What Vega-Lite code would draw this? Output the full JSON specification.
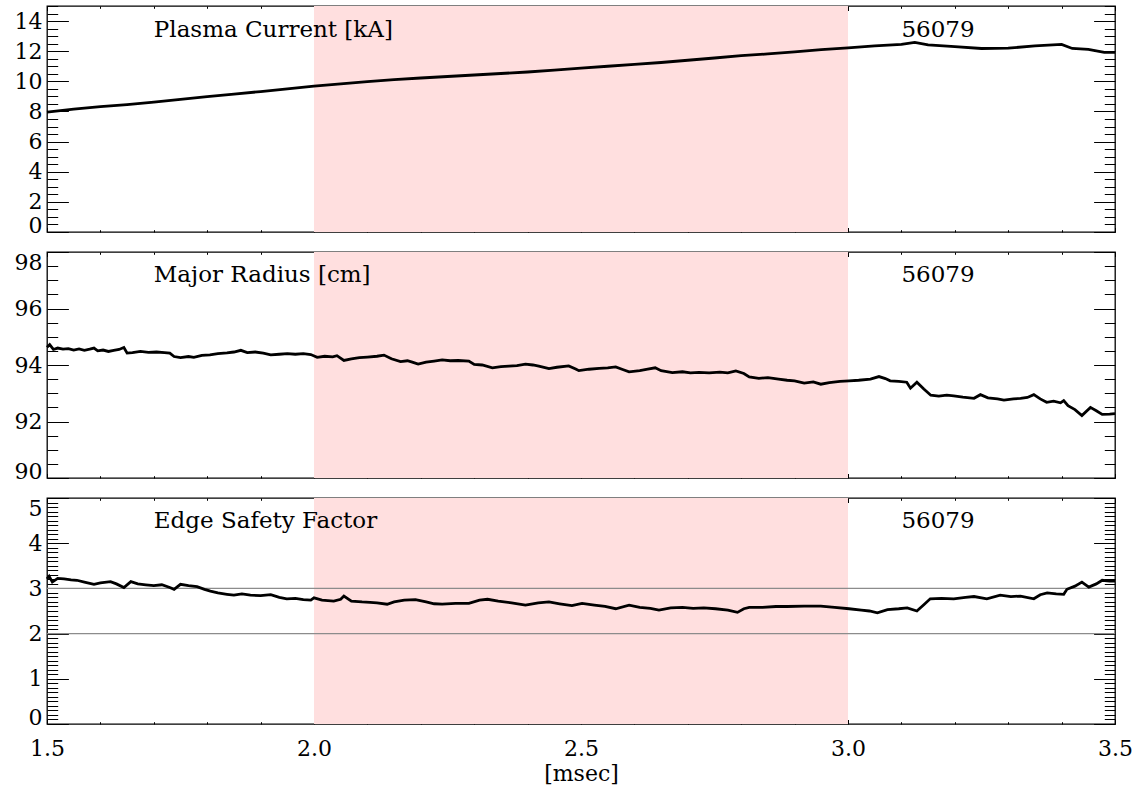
{
  "$schema": "https://vega.github.io/schema/vega-lite/v6.json",
  "background": "white",
  "padding": {"left": 3, "top": 4, "right": 0, "bottom": 0},
  "spacing": 13,
  "config": {
    "view": {"stroke": "black", "strokeWidth": 1.3},
    "axis": {"domain": false, "grid": false, "tickColor": "black", "tickWidth": 1, "zindex": 1, "labelOverlap": false,
      "labelFont": "DejaVu Serif", "labelFontSize": 22, "labelColor": "black",
      "titleFont": "DejaVu Serif", "titleFontSize": 22, "titleFontWeight": "normal", "titleColor": "black"}
  },
  "datasets": {
    "ip": [
      {"t":1.50,"v":7.95},{"t":1.55,"v":8.15},{"t":1.60,"v":8.32},{"t":1.65,"v":8.46},{"t":1.70,"v":8.62},{"t":1.75,"v":8.80},{"t":1.80,"v":8.99},{"t":1.85,"v":9.15},{"t":1.90,"v":9.32},{"t":1.95,"v":9.50},{"t":2.00,"v":9.68},{"t":2.05,"v":9.83},{"t":2.10,"v":9.98},{"t":2.15,"v":10.12},{"t":2.20,"v":10.22},{"t":2.25,"v":10.32},{"t":2.30,"v":10.42},{"t":2.35,"v":10.52},{"t":2.40,"v":10.62},{"t":2.45,"v":10.75},{"t":2.50,"v":10.88},{"t":2.55,"v":11.00},{"t":2.60,"v":11.12},{"t":2.65,"v":11.25},{"t":2.70,"v":11.40},{"t":2.75,"v":11.55},{"t":2.80,"v":11.70},{"t":2.85,"v":11.82},{"t":2.90,"v":11.95},{"t":2.95,"v":12.10},{"t":3.00,"v":12.22},{"t":3.05,"v":12.35},{"t":3.10,"v":12.45},{"t":3.125,"v":12.58},{"t":3.15,"v":12.42},{"t":3.20,"v":12.30},{"t":3.25,"v":12.18},{"t":3.30,"v":12.20},{"t":3.35,"v":12.36},{"t":3.40,"v":12.45},{"t":3.42,"v":12.18},{"t":3.45,"v":12.12},{"t":3.48,"v":11.92},{"t":3.50,"v":11.92}
    ],
    "rmaj": [
      {"t":1.500,"v":94.63},{"t":1.505,"v":94.72},{"t":1.512,"v":94.55},{"t":1.520,"v":94.60},{"t":1.530,"v":94.56},{"t":1.540,"v":94.58},{"t":1.550,"v":94.53},{"t":1.560,"v":94.57},{"t":1.570,"v":94.52},{"t":1.580,"v":94.56},{"t":1.588,"v":94.60},{"t":1.595,"v":94.50},{"t":1.605,"v":94.53},{"t":1.615,"v":94.48},{"t":1.625,"v":94.52},{"t":1.635,"v":94.55},{"t":1.644,"v":94.62},{"t":1.650,"v":94.42},{"t":1.660,"v":94.44},{"t":1.675,"v":94.48},{"t":1.690,"v":94.45},{"t":1.705,"v":94.46},{"t":1.720,"v":94.44},{"t":1.730,"v":94.42},{"t":1.738,"v":94.30},{"t":1.750,"v":94.26},{"t":1.765,"v":94.30},{"t":1.775,"v":94.27},{"t":1.790,"v":94.34},{"t":1.805,"v":94.36},{"t":1.820,"v":94.40},{"t":1.837,"v":94.43},{"t":1.850,"v":94.46},{"t":1.863,"v":94.52},{"t":1.875,"v":94.44},{"t":1.890,"v":94.46},{"t":1.905,"v":94.42},{"t":1.919,"v":94.36},{"t":1.935,"v":94.38},{"t":1.950,"v":94.40},{"t":1.965,"v":94.38},{"t":1.980,"v":94.40},{"t":1.994,"v":94.37},{"t":2.006,"v":94.27},{"t":2.020,"v":94.31},{"t":2.035,"v":94.29},{"t":2.043,"v":94.33},{"t":2.056,"v":94.16},{"t":2.070,"v":94.22},{"t":2.085,"v":94.26},{"t":2.100,"v":94.28},{"t":2.118,"v":94.31},{"t":2.131,"v":94.35},{"t":2.145,"v":94.22},{"t":2.162,"v":94.12},{"t":2.175,"v":94.15},{"t":2.184,"v":94.10},{"t":2.195,"v":94.03},{"t":2.210,"v":94.10},{"t":2.225,"v":94.14},{"t":2.240,"v":94.18},{"t":2.255,"v":94.15},{"t":2.270,"v":94.16},{"t":2.290,"v":94.14},{"t":2.300,"v":94.02},{"t":2.315,"v":94.00},{"t":2.334,"v":93.90},{"t":2.350,"v":93.94},{"t":2.365,"v":93.96},{"t":2.380,"v":93.98},{"t":2.396,"v":94.03},{"t":2.410,"v":94.00},{"t":2.421,"v":93.96},{"t":2.440,"v":93.87},{"t":2.455,"v":93.92},{"t":2.477,"v":93.97},{"t":2.490,"v":93.86},{"t":2.496,"v":93.80},{"t":2.515,"v":93.85},{"t":2.534,"v":93.88},{"t":2.550,"v":93.90},{"t":2.565,"v":93.93},{"t":2.578,"v":93.84},{"t":2.590,"v":93.76},{"t":2.610,"v":93.80},{"t":2.625,"v":93.85},{"t":2.639,"v":93.90},{"t":2.650,"v":93.80},{"t":2.671,"v":93.73},{"t":2.690,"v":93.76},{"t":2.705,"v":93.72},{"t":2.721,"v":93.74},{"t":2.740,"v":93.72},{"t":2.760,"v":93.75},{"t":2.775,"v":93.72},{"t":2.790,"v":93.79},{"t":2.805,"v":93.70},{"t":2.815,"v":93.58},{"t":2.833,"v":93.53},{"t":2.850,"v":93.55},{"t":2.870,"v":93.50},{"t":2.886,"v":93.46},{"t":2.900,"v":93.44},{"t":2.918,"v":93.36},{"t":2.935,"v":93.40},{"t":2.949,"v":93.32},{"t":2.965,"v":93.38},{"t":2.985,"v":93.42},{"t":3.002,"v":93.44},{"t":3.020,"v":93.46},{"t":3.042,"v":93.50},{"t":3.058,"v":93.59},{"t":3.070,"v":93.52},{"t":3.079,"v":93.44},{"t":3.095,"v":93.42},{"t":3.110,"v":93.39},{"t":3.117,"v":93.18},{"t":3.129,"v":93.39},{"t":3.142,"v":93.15},{"t":3.155,"v":92.93},{"t":3.170,"v":92.90},{"t":3.185,"v":92.93},{"t":3.198,"v":92.91},{"t":3.215,"v":92.86},{"t":3.236,"v":92.82},{"t":3.248,"v":92.95},{"t":3.262,"v":92.84},{"t":3.280,"v":92.80},{"t":3.292,"v":92.76},{"t":3.310,"v":92.80},{"t":3.323,"v":92.82},{"t":3.336,"v":92.85},{"t":3.348,"v":92.95},{"t":3.360,"v":92.80},{"t":3.372,"v":92.68},{"t":3.385,"v":92.72},{"t":3.398,"v":92.66},{"t":3.404,"v":92.74},{"t":3.412,"v":92.56},{"t":3.425,"v":92.42},{"t":3.438,"v":92.21},{"t":3.454,"v":92.50},{"t":3.465,"v":92.38},{"t":3.476,"v":92.25},{"t":3.490,"v":92.26},{"t":3.500,"v":92.28}
    ],
    "q": [
      {"t":1.500,"v":3.21},{"t":1.504,"v":3.27},{"t":1.510,"v":3.14},{"t":1.520,"v":3.22},{"t":1.532,"v":3.21},{"t":1.545,"v":3.19},{"t":1.556,"v":3.18},{"t":1.570,"v":3.14},{"t":1.588,"v":3.09},{"t":1.600,"v":3.12},{"t":1.619,"v":3.15},{"t":1.630,"v":3.10},{"t":1.644,"v":3.02},{"t":1.657,"v":3.15},{"t":1.670,"v":3.10},{"t":1.685,"v":3.08},{"t":1.700,"v":3.06},{"t":1.715,"v":3.08},{"t":1.730,"v":3.02},{"t":1.738,"v":2.98},{"t":1.750,"v":3.09},{"t":1.765,"v":3.06},{"t":1.781,"v":3.04},{"t":1.795,"v":2.98},{"t":1.806,"v":2.94},{"t":1.820,"v":2.90},{"t":1.837,"v":2.87},{"t":1.850,"v":2.85},{"t":1.865,"v":2.88},{"t":1.881,"v":2.85},{"t":1.900,"v":2.84},{"t":1.919,"v":2.86},{"t":1.935,"v":2.80},{"t":1.949,"v":2.77},{"t":1.965,"v":2.78},{"t":1.980,"v":2.75},{"t":1.994,"v":2.74},{"t":2.000,"v":2.79},{"t":2.015,"v":2.74},{"t":2.037,"v":2.72},{"t":2.050,"v":2.76},{"t":2.056,"v":2.83},{"t":2.070,"v":2.72},{"t":2.090,"v":2.70},{"t":2.105,"v":2.69},{"t":2.118,"v":2.68},{"t":2.137,"v":2.65},{"t":2.150,"v":2.70},{"t":2.169,"v":2.74},{"t":2.190,"v":2.75},{"t":2.210,"v":2.70},{"t":2.225,"v":2.66},{"t":2.240,"v":2.65},{"t":2.265,"v":2.67},{"t":2.290,"v":2.67},{"t":2.310,"v":2.74},{"t":2.325,"v":2.76},{"t":2.345,"v":2.72},{"t":2.370,"v":2.68},{"t":2.396,"v":2.63},{"t":2.420,"v":2.68},{"t":2.440,"v":2.70},{"t":2.460,"v":2.66},{"t":2.483,"v":2.62},{"t":2.502,"v":2.67},{"t":2.525,"v":2.63},{"t":2.545,"v":2.60},{"t":2.565,"v":2.55},{"t":2.590,"v":2.63},{"t":2.610,"v":2.58},{"t":2.630,"v":2.56},{"t":2.646,"v":2.52},{"t":2.668,"v":2.57},{"t":2.690,"v":2.58},{"t":2.710,"v":2.56},{"t":2.730,"v":2.57},{"t":2.752,"v":2.55},{"t":2.775,"v":2.52},{"t":2.793,"v":2.47},{"t":2.805,"v":2.55},{"t":2.815,"v":2.58},{"t":2.840,"v":2.58},{"t":2.865,"v":2.60},{"t":2.886,"v":2.60},{"t":2.918,"v":2.61},{"t":2.949,"v":2.61},{"t":2.975,"v":2.58},{"t":3.002,"v":2.55},{"t":3.025,"v":2.52},{"t":3.040,"v":2.50},{"t":3.055,"v":2.46},{"t":3.074,"v":2.53},{"t":3.095,"v":2.55},{"t":3.111,"v":2.57},{"t":3.129,"v":2.50},{"t":3.142,"v":2.64},{"t":3.154,"v":2.77},{"t":3.175,"v":2.78},{"t":3.198,"v":2.77},{"t":3.220,"v":2.80},{"t":3.236,"v":2.82},{"t":3.260,"v":2.77},{"t":3.285,"v":2.85},{"t":3.305,"v":2.82},{"t":3.323,"v":2.83},{"t":3.348,"v":2.77},{"t":3.360,"v":2.86},{"t":3.373,"v":2.90},{"t":3.390,"v":2.88},{"t":3.404,"v":2.87},{"t":3.410,"v":2.98},{"t":3.425,"v":3.05},{"t":3.438,"v":3.14},{"t":3.451,"v":3.03},{"t":3.465,"v":3.10},{"t":3.476,"v":3.18},{"t":3.490,"v":3.16},{"t":3.500,"v":3.16}
    ]
  },
  "vconcat": [
    {
      "width": 1068, "height": 226,
      "resolve": {"axis": {"x": "independent", "y": "independent"}},
      "layer": [
        {"data": {"values": [{"a": 2.0, "b": 3.0}]}, "mark": {"type": "rect", "color": "#ffdfdf"},
         "encoding": {
           "x": {"field": "a", "type": "quantitative", "scale": {"domain": [1.5, 3.5], "nice": false, "zero": false},
                 "axis": {"orient": "bottom", "title": null, "labels": false, "values": [1.5,1.6,1.7,1.8,1.9,2.0,2.1,2.2,2.3,2.4,2.5,2.6,2.7,2.8,2.9,3.0,3.1,3.2,3.3,3.4,3.5],
                          "tickSize": {"condition": {"test": "abs(datum.value*2 - round(datum.value*2)) < 0.01", "value": -4.5}, "value": -2.3}}},
           "x2": {"field": "b"}}},
        {"data": {"name": "ip"}, "mark": {"type": "line", "color": "black", "strokeWidth": 2.8},
         "encoding": {
           "x": {"field": "t", "type": "quantitative", "scale": {"domain": [1.5, 3.5], "nice": false, "zero": false},
                 "axis": {"orient": "top", "title": null, "labels": false, "values": [1.5,1.6,1.7,1.8,1.9,2.0,2.1,2.2,2.3,2.4,2.5,2.6,2.7,2.8,2.9,3.0,3.1,3.2,3.3,3.4,3.5],
                          "tickSize": {"condition": {"test": "abs(datum.value*2 - round(datum.value*2)) < 0.01", "value": -4.5}, "value": -2.3}}},
           "y": {"field": "v", "type": "quantitative", "scale": {"domain": [0, 15], "nice": false, "zero": false},
                 "axis": {"orient": "left", "title": null, "labels": false, "values": [0,0.5,1,1.5,2,2.5,3,3.5,4,4.5,5,5.5,6,6.5,7,7.5,8,8.5,9,9.5,10,10.5,11,11.5,12,12.5,13,13.5,14,14.5,15],
                          "tickSize": {"condition": {"test": "abs(datum.value/2 - round(datum.value/2)) < 0.01", "value": -21.4}, "value": -10.7}}}}},
        {"data": {"values": [{"label": "Plasma Current [kA]"}]},
         "mark": {"type": "text", "align": "left", "baseline": "middle", "font": "DejaVu Serif", "fontSize": 23, "color": "black"},
         "encoding": {
           "x": {"datum": 1.7, "type": "quantitative", "axis": null},
           "y": {"datum": 13.4, "type": "quantitative",
                 "axis": {"orient": "right", "title": null, "labels": false, "values": [0,0.5,1,1.5,2,2.5,3,3.5,4,4.5,5,5.5,6,6.5,7,7.5,8,8.5,9,9.5,10,10.5,11,11.5,12,12.5,13,13.5,14,14.5,15],
                          "tickSize": {"condition": {"test": "abs(datum.value/2 - round(datum.value/2)) < 0.01", "value": -21.4}, "value": -10.7}}},
           "text": {"field": "label"}}},
        {"data": {"values": [{"label": "56079"}]},
         "mark": {"type": "text", "align": "left", "baseline": "middle", "font": "DejaVu Serif", "fontSize": 23, "color": "black"},
         "encoding": {
           "x": {"datum": 3.1, "type": "quantitative", "axis": null},
           "y": {"datum": 13.4, "type": "quantitative",
                 "axis": {"orient": "left", "title": null, "ticks": false, "values": [0,2,4,6,8,10,12,14], "labelFlush": false, "labelPadding": 5, "minExtent": 43, "maxExtent": 43,
                          "labelBaseline": {"condition": {"test": "datum.value == 0", "value": "alphabetic"}, "value": "middle"}}},
           "text": {"field": "label"}}}
      ]
    },
    {
      "width": 1068, "height": 226,
      "resolve": {"axis": {"x": "independent", "y": "independent"}},
      "layer": [
        {"data": {"values": [{"a": 2.0, "b": 3.0}]}, "mark": {"type": "rect", "color": "#ffdfdf"},
         "encoding": {
           "x": {"field": "a", "type": "quantitative", "scale": {"domain": [1.5, 3.5], "nice": false, "zero": false},
                 "axis": {"orient": "bottom", "title": null, "labels": false, "values": [1.5,1.6,1.7,1.8,1.9,2.0,2.1,2.2,2.3,2.4,2.5,2.6,2.7,2.8,2.9,3.0,3.1,3.2,3.3,3.4,3.5],
                          "tickSize": {"condition": {"test": "abs(datum.value*2 - round(datum.value*2)) < 0.01", "value": -4.5}, "value": -2.3}}},
           "x2": {"field": "b"}}},
        {"data": {"name": "rmaj"}, "mark": {"type": "line", "color": "black", "strokeWidth": 2.8},
         "encoding": {
           "x": {"field": "t", "type": "quantitative", "scale": {"domain": [1.5, 3.5], "nice": false, "zero": false},
                 "axis": {"orient": "top", "title": null, "labels": false, "values": [1.5,1.6,1.7,1.8,1.9,2.0,2.1,2.2,2.3,2.4,2.5,2.6,2.7,2.8,2.9,3.0,3.1,3.2,3.3,3.4,3.5],
                          "tickSize": {"condition": {"test": "abs(datum.value*2 - round(datum.value*2)) < 0.01", "value": -4.5}, "value": -2.3}}},
           "y": {"field": "v", "type": "quantitative", "scale": {"domain": [90, 98], "nice": false, "zero": false},
                 "axis": {"orient": "left", "title": null, "labels": false, "values": [90,90.5,91,91.5,92,92.5,93,93.5,94,94.5,95,95.5,96,96.5,97,97.5,98],
                          "tickSize": {"condition": {"test": "abs(datum.value/2 - round(datum.value/2)) < 0.01", "value": -21.4}, "value": -10.7}}}}},
        {"data": {"values": [{"label": "Major Radius [cm]"}]},
         "mark": {"type": "text", "align": "left", "baseline": "middle", "font": "DejaVu Serif", "fontSize": 23, "color": "black"},
         "encoding": {
           "x": {"datum": 1.7, "type": "quantitative", "axis": null},
           "y": {"datum": 97.2, "type": "quantitative",
                 "axis": {"orient": "right", "title": null, "labels": false, "values": [90,90.5,91,91.5,92,92.5,93,93.5,94,94.5,95,95.5,96,96.5,97,97.5,98],
                          "tickSize": {"condition": {"test": "abs(datum.value/2 - round(datum.value/2)) < 0.01", "value": -21.4}, "value": -10.7}}},
           "text": {"field": "label"}}},
        {"data": {"values": [{"label": "56079"}]},
         "mark": {"type": "text", "align": "left", "baseline": "middle", "font": "DejaVu Serif", "fontSize": 23, "color": "black"},
         "encoding": {
           "x": {"datum": 3.1, "type": "quantitative", "axis": null},
           "y": {"datum": 97.2, "type": "quantitative",
                 "axis": {"orient": "left", "title": null, "ticks": false, "values": [90,92,94,96,98], "labelFlush": false, "labelPadding": 5, "minExtent": 43, "maxExtent": 43,
                          "labelBaseline": {"condition": [{"test": "datum.value == 90", "value": "alphabetic"}, {"test": "datum.value == 98", "value": "top"}], "value": "middle"}}},
           "text": {"field": "label"}}}
      ]
    },
    {
      "width": 1068, "height": 226,
      "resolve": {"axis": {"x": "independent", "y": "independent"}},
      "layer": [
        {"data": {"values": [{"a": 2.0, "b": 3.0}]}, "mark": {"type": "rect", "color": "#ffdfdf"},
         "encoding": {
           "x": {"field": "a", "type": "quantitative", "scale": {"domain": [1.5, 3.5], "nice": false, "zero": false},
                 "axis": {"orient": "bottom", "title": null, "labels": false, "values": [1.5,1.6,1.7,1.8,1.9,2.0,2.1,2.2,2.3,2.4,2.5,2.6,2.7,2.8,2.9,3.0,3.1,3.2,3.3,3.4,3.5],
                          "tickSize": {"condition": {"test": "abs(datum.value*2 - round(datum.value*2)) < 0.01", "value": -4.5}, "value": -2.3}}},
           "x2": {"field": "b"}}},
        {"data": {"values": [{"q": 2}, {"q": 3}]}, "mark": {"type": "rule", "color": "#8c8c8c", "strokeWidth": 1.3},
         "encoding": {
           "y": {"field": "q", "type": "quantitative", "scale": {"domain": [0, 5], "nice": false, "zero": false},
                 "axis": {"orient": "right", "title": null, "labels": false, "values": [0,0.1,0.2,0.3,0.4,0.5,0.6,0.7,0.8,0.9,1,1.1,1.2,1.3,1.4,1.5,1.6,1.7,1.8,1.9,2,2.1,2.2,2.3,2.4,2.5,2.6,2.7,2.8,2.9,3,3.1,3.2,3.3,3.4,3.5,3.6,3.7,3.8,3.9,4,4.1,4.2,4.3,4.4,4.5,4.6,4.7,4.8,4.9,5],
                          "tickSize": {"condition": {"test": "abs(datum.value - round(datum.value)) < 0.01", "value": -21.4}, "value": -10.7}}}}},
        {"data": {"name": "q"}, "mark": {"type": "line", "color": "black", "strokeWidth": 2.8},
         "encoding": {
           "x": {"field": "t", "type": "quantitative", "scale": {"domain": [1.5, 3.5], "nice": false, "zero": false},
                 "axis": {"orient": "top", "title": null, "labels": false, "values": [1.5,1.6,1.7,1.8,1.9,2.0,2.1,2.2,2.3,2.4,2.5,2.6,2.7,2.8,2.9,3.0,3.1,3.2,3.3,3.4,3.5],
                          "tickSize": {"condition": {"test": "abs(datum.value*2 - round(datum.value*2)) < 0.01", "value": -4.5}, "value": -2.3}}},
           "y": {"field": "v", "type": "quantitative", "scale": {"domain": [0, 5], "nice": false, "zero": false},
                 "axis": {"orient": "left", "title": null, "labels": false, "values": [0,0.1,0.2,0.3,0.4,0.5,0.6,0.7,0.8,0.9,1,1.1,1.2,1.3,1.4,1.5,1.6,1.7,1.8,1.9,2,2.1,2.2,2.3,2.4,2.5,2.6,2.7,2.8,2.9,3,3.1,3.2,3.3,3.4,3.5,3.6,3.7,3.8,3.9,4,4.1,4.2,4.3,4.4,4.5,4.6,4.7,4.8,4.9,5],
                          "tickSize": {"condition": {"test": "abs(datum.value - round(datum.value)) < 0.01", "value": -21.4}, "value": -10.7}}}}},
        {"data": {"values": [{"label": "Edge Safety Factor"}]},
         "mark": {"type": "text", "align": "left", "baseline": "middle", "font": "DejaVu Serif", "fontSize": 23, "color": "black"},
         "encoding": {
           "x": {"datum": 1.7, "type": "quantitative", "axis": null},
           "y": {"datum": 4.49, "type": "quantitative", "axis": null},
           "text": {"field": "label"}}},
        {"data": {"values": [{"label": "56079"}]},
         "mark": {"type": "text", "align": "left", "baseline": "middle", "font": "DejaVu Serif", "fontSize": 23, "color": "black"},
         "encoding": {
           "x": {"datum": 3.1, "type": "quantitative",
                 "axis": {"orient": "bottom", "title": "[msec]", "ticks": false, "values": [1.5, 2.0, 2.5, 3.0, 3.5], "format": ".1f", "labelFlush": false, "labelPadding": 14, "titlePadding": 4}},
           "y": {"datum": 4.49, "type": "quantitative",
                 "axis": {"orient": "left", "title": null, "ticks": false, "values": [0,1,2,3,4,5], "labelFlush": false, "labelPadding": 5, "minExtent": 43, "maxExtent": 43,
                          "labelBaseline": {"condition": [{"test": "datum.value == 0", "value": "alphabetic"}, {"test": "datum.value == 5", "value": "top"}], "value": "middle"}}},
           "text": {"field": "label"}}}
      ]
    }
  ]
}
